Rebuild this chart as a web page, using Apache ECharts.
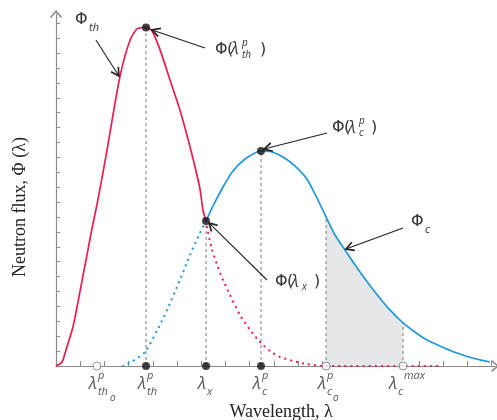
<!DOCTYPE html>
<html>
<head>
<meta charset="utf-8">
<script src="https://cdn.jsdelivr.net/npm/echarts@6/dist/echarts.min.js"></script>
<style>
html, body { margin: 0; padding: 0; background: #fff; }
#chart { width: 497px; height: 420px; }
</style>
</head>
<body>
<div id="chart"></div>
<script>
// thermal flux, solid part (up to the crossing point)
var thermalSolid = [[0,0],[0.25,0.27],[0.45,1.28],[0.70,2.62],[0.91,4.30],[1.12,6.11],[1.32,7.79],
  [1.49,9.26],[1.69,10.81],[1.90,12.62],[2.11,14.50],[2.44,17.65],[2.64,19.40],[2.85,20.81],
  [3.10,22.01],[3.35,22.62],[3.72,22.72],[3.97,22.48],[4.30,21.21],[4.71,19.19],[5.12,17.18],
  [5.54,14.70],[5.95,11.88],[6.07,10.47],[6.20,9.73]];
// thermal flux, dotted tail
var thermalTail = [[6.20,9.73],[6.28,8.99],[6.45,7.79],[6.69,6.64],[6.90,5.77],[7.19,4.77],[7.60,3.42],
  [8.02,2.42],[8.43,1.61],[8.84,1.01],[9.26,0.60],[9.79,0.34],[10.37,0.13],[11.03,0],[15.87,0]];
// cold flux, dotted rise
var coldRise = [[2.77,0],[3.18,0.34],[3.68,0.94],[4.17,2.35],[4.59,3.76],[5.12,5.77],[5.54,7.45],
  [5.95,8.93],[6.20,9.73]];
// cold flux, solid part
var coldSolid = [[6.20,9.73],[6.49,10.74],[6.90,12.01],[7.31,13.09],[7.81,13.89],[8.22,14.30],
  [8.47,14.43],[8.93,14.36],[9.38,14.03],[9.88,13.42],[10.37,12.55],[10.74,11.41],[11.16,10.00],
  [11.53,8.79],[11.94,7.79],[12.36,6.78],[12.77,5.84],[13.18,4.97],[13.76,3.83],[14.34,2.89],
  [14.83,2.28],[15.33,1.74],[15.95,1.28],[16.57,0.87],[17.19,0.54],[17.93,0.27]];

// wavelength markers on the axis
var markerX = [1.69, 3.72, 6.20, 8.47, 11.16, 14.34];
var markerFilled = [false, true, true, true, false, false];
var markerSup = ['p', 'p', '', 'p', 'p', 'max'];
var markerSub = ['th', 'th', 'x', 'c', 'c', 'c'];
var markerSubSub = ['o', '', '', '', 'o', ''];

// dots on the curves
var curveDots = [[3.72,22.72],[6.20,9.73],[8.47,14.43]];
// dashed drop lines (x, top y)
var dropLines = [[3.72,22.72],[6.20,9.73],[8.47,14.43],[11.16,10.00],[14.34,2.89]];

// annotations
var annoSub = ['th', 'th', 'c', 'c', 'x'];
var annoSup = ['', 'p', 'p', '', ''];
var annoLambda = [false, true, true, false, true];
var annoAt = [[0.79,23.22],[6.57,21.21],[11.40,15.97],[14.67,9.66],[9.05,5.64]];
var annoFrom = [[1.65,21.88],[6.16,21.34],[11.20,15.64],[14.34,9.26],[8.72,5.77]];
var annoTo = [[2.60,19.46],[3.97,22.55],[8.60,14.56],[11.98,7.85],[6.32,9.60]];

var xTicks = [], yTicks = [];
for (var k = 1; k <= 18; k++) xTicks.push(k);
for (var k = 1; k <= 23; k++) yTicks.push(k);

var red = '#ec1c4d', blue = '#1f98d8', axisGray = '#8a8a8a';
var chevron = 'path://M6,0 L12,7 L10.8,8 L6,2.4 L1.2,8 L0,7 Z';
var sans = '"DejaVu Sans", sans-serif';
var itSans = '"Open Sans", "DejaVu Sans", sans-serif';

function txt(s, x, y, font, align) {
  return { type: 'text', style: { text: s, x: x, y: y, font: font, fill: '#333',
    align: align || 'left', verticalAlign: 'middle' } };
}

function phiLabel(x, y, sup, sub, withLambda) {
  var out = [txt('Φ', x, y, '16px ' + sans)];
  if (!withLambda) {
    out.push(txt(sub, x + 14, y + 8, 'italic 11px ' + itSans));
    return out;
  }
  out.push(txt('(', x + 12, y, '16px ' + sans));
  out.push(txt('λ', x + 16, y, 'italic 16px ' + itSans));
  if (sup) out.push(txt(sup, x + 27, y - 7, 'italic 10px ' + itSans));
  out.push(txt(sub, x + 27, y + 5, 'italic 10px ' + itSans));
  var w = Math.max(sup.length, sub.length) * 6;
  out.push(txt(')', x + 27 + w + 6, y, '16px ' + sans));
  return out;
}

function annoItem(params, api) {
  var i = params.dataIndex;
  var a = api.coord(annoFrom[i]), b = api.coord(annoTo[i]), t = api.coord(annoAt[i]);
  var ang = Math.atan2(a[1] - b[1], a[0] - b[0]);
  var h = 9, s = 0.5;
  var p1 = [b[0] + h * Math.cos(ang + s), b[1] + h * Math.sin(ang + s)];
  var p2 = [b[0] + h * Math.cos(ang - s), b[1] + h * Math.sin(ang - s)];
  var kids = [
    { type: 'line', shape: { x1: a[0], y1: a[1], x2: b[0], y2: b[1] }, style: { stroke: '#222', lineWidth: 1.1 } },
    { type: 'polyline', shape: { points: [p1, b, p2] }, style: { stroke: '#222', lineWidth: 1.7, fill: null } }
  ];
  return { type: 'group', children: kids.concat(phiLabel(t[0], t[1], annoSup[i], annoSub[i], annoLambda[i])) };
}

function tickLabel(params, api) {
  var i = params.dataIndex;
  var p = api.coord([markerX[i], 0]);
  var x = p[0], y = p[1];
  var shift = Math.max(0, markerSup[i].length - 1) * 3;
  var col = '#555';
  var kids = [
    { type: 'text', style: { text: 'λ', x: x - 4 - shift, y: y + 18, font: 'italic 17px ' + itSans, fill: col, align: 'center', verticalAlign: 'middle' } }
  ];
  if (markerSup[i]) kids.push({ type: 'text', style: { text: markerSup[i], x: x + 1, y: y + 10, font: 'italic 11px ' + itSans, fill: col, align: 'left', verticalAlign: 'middle' } });
  kids.push({ type: 'text', style: { text: markerSub[i], x: x + 1 - shift, y: y + 26, font: 'italic 11px ' + itSans, fill: col, align: 'left', verticalAlign: 'middle' } });
  if (markerSubSub[i]) kids.push({ type: 'text', style: { text: markerSubSub[i], x: x + 1 + markerSub[i].length * 6, y: y + 32, font: 'italic 10px ' + itSans, fill: col, align: 'left', verticalAlign: 'middle' } });
  return { type: 'group', children: kids };
}

function dropItem(params, api) {
  var i = params.dataIndex;
  var a = api.coord([dropLines[i][0], 0]), b = api.coord(dropLines[i]);
  return { type: 'line', shape: { x1: a[0], y1: a[1], x2: b[0], y2: b[1] },
    style: { stroke: '#777', lineWidth: 1, lineDash: [3, 3] } };
}

var chart = echarts.init(document.getElementById('chart'));
chart.setOption({
  animation: false,
  grid: { left: 56, top: 14, width: 439, height: 352, outerBoundsMode: 'none' },
  xAxis: {
    type: 'value', min: 0, max: 18.14,
    axisLine: { lineStyle: { color: axisGray, width: 1.2 }, symbol: ['none', chevron], symbolSize: [12, 8] },
    axisTick: { inside: true, length: 5, customValues: xTicks, lineStyle: { color: axisGray } },
    axisLabel: { show: false },
    splitLine: { show: false }
  },
  yAxis: {
    type: 'value', min: 0, max: 23.62,
    axisLine: { show: true, lineStyle: { color: axisGray, width: 1.2 }, symbol: ['none', chevron], symbolSize: [12, 8] },
    axisTick: { show: true, inside: true, length: 4, customValues: yTicks, lineStyle: { color: axisGray } },
    axisLabel: { show: false },
    splitLine: { show: false }
  },
  graphic: [
    { type: 'text', x: 281, y: 412, style: { text: 'Wavelength, λ', font: '18px "Liberation Serif", serif', fill: '#222', align: 'center', verticalAlign: 'middle' } },
    { type: 'text', x: 20, y: 207, rotation: Math.PI / 2, style: { text: 'Neutron flux, Φ (λ)', font: '18px "Liberation Serif", serif', fill: '#222', align: 'center', verticalAlign: 'middle' } }
  ],
  series: [
    { type: 'line', data: coldSolid.filter(function (p) { return p[0] >= markerX[4] && p[0] <= markerX[5]; }),
      showSymbol: false, lineStyle: { width: 0 }, areaStyle: { color: '#e6e7e8', opacity: 1 }, z: 1, silent: true },
    { type: 'custom', renderItem: dropItem, data: dropLines, z: 2, silent: true },
    { type: 'line', data: thermalTail, showSymbol: false, smooth: 0.2, z: 3,
      lineStyle: { color: red, width: 2.2, type: [0.1, 6], cap: 'round' } },
    { type: 'line', data: coldRise, showSymbol: false, smooth: 0.2, z: 3,
      lineStyle: { color: blue, width: 2.2, type: [0.1, 6], cap: 'round' } },
    { type: 'line', data: thermalSolid, showSymbol: false, smooth: 0.2, z: 4, lineStyle: { color: red, width: 1.7 } },
    { type: 'line', data: coldSolid, showSymbol: false, smooth: 0.2, z: 4, lineStyle: { color: blue, width: 1.7 } },
    { type: 'scatter', z: 6, symbolSize: 8,
      data: markerX.map(function (x, i) {
        return { value: [x, 0], itemStyle: markerFilled[i] ? { color: '#111' } : { color: '#fff', borderColor: '#777', borderWidth: 1 } };
      }) },
    { type: 'scatter', z: 6, symbolSize: 8, data: curveDots, itemStyle: { color: '#111' } },
    { type: 'custom', renderItem: annoItem, data: annoAt, z: 7, silent: true },
    { type: 'custom', renderItem: tickLabel, data: markerX.map(function (x) { return [x, 0]; }), z: 7, silent: true }
  ]
});
</script>
</body>
</html>
